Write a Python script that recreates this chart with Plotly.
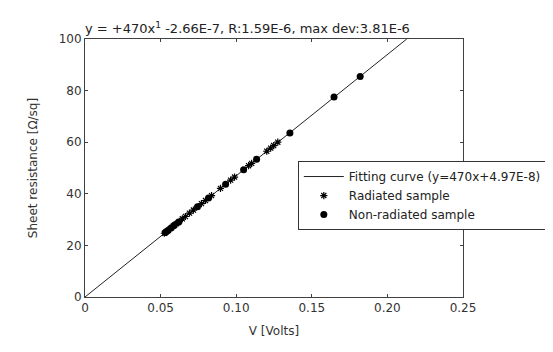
import plotly.graph_objects as go

# Fitting curve (straight line through origin to top edge)
fit_x = [0.0, 0.05, 0.10, 0.15, 0.2128]
fit_y = [0.0, 23.5, 47.0, 70.5, 100.0]

# Radiated sample (asterisks)
rad_x = [0.0525, 0.0538, 0.0544, 0.0564, 0.0584, 0.0604, 0.0624, 0.0644, 0.0664, 0.0691,
         0.0717, 0.0770, 0.0797, 0.0837, 0.0896, 0.0963, 0.0989, 0.1082, 0.1102, 0.1202,
         0.1228, 0.1248, 0.1275]
rad_y = [24.7, 25.3, 25.6, 26.5, 27.5, 28.4, 29.3, 30.3, 31.2, 32.5,
         33.7, 36.2, 37.4, 39.3, 42.1, 45.3, 46.5, 50.9, 51.8, 56.5,
         57.7, 58.7, 60.0]

# Non-radiated sample (filled dots)
non_x = [0.0531, 0.0551, 0.0571, 0.0591, 0.0618, 0.0744, 0.0817, 0.0930, 0.1049, 0.1135,
         0.1355, 0.1647, 0.1820]
non_y = [25.0, 25.9, 26.8, 27.8, 29.0, 35.0, 38.4, 43.7, 49.3, 53.4,
         63.6, 77.5, 85.5]

x_ticks = [0, 0.05, 0.10, 0.15, 0.20, 0.25]
x_ticktext = ["0", "0.05", "0.10", "0.15", "0.20", "0.25"]
y_ticks = [0, 20, 40, 60, 80, 100]

font = "DejaVu Sans, Verdana, sans-serif"

fig = go.Figure()
fig.add_trace(go.Scatter(x=fit_x, y=fit_y, mode="lines",
                         line=dict(color="#222222", width=1),
                         name="Fitting curve (y=470x+4.97E-8)"))
fig.add_trace(go.Scatter(x=rad_x, y=rad_y, mode="markers",
                         marker=dict(symbol="asterisk-open", size=6, color="black",
                                     line=dict(color="black", width=1.2)),
                         name="Radiated sample"))
fig.add_trace(go.Scatter(x=non_x, y=non_y, mode="markers",
                         marker=dict(symbol="circle", size=7, color="black",
                                     line=dict(width=0)),
                         name="Non-radiated sample"))

axis_common = dict(showgrid=False, zeroline=False, showline=True, linecolor="#404040",
                   linewidth=1, mirror="ticks", ticks="inside", ticklen=3,
                   tickcolor="#404040", tickfont=dict(family=font, size=12, color="#333333"))

fig.update_xaxes(range=[0, 0.25], tickvals=x_ticks, ticktext=x_ticktext,
                 title=dict(text="V [Volts]", font=dict(family=font, size=12, color="#333333"),
                            standoff=12),
                 **axis_common)
fig.update_yaxes(range=[0, 100], tickvals=y_ticks,
                 title=dict(text="Sheet resistance [Ω/sq]",
                            font=dict(family=font, size=12, color="#333333"), standoff=18),
                 **axis_common)

fig.add_annotation(text="y = +470x<sup>1</sup> -2.66E-7, R:1.59E-6, max dev:3.81E-6",
                   xref="paper", yref="paper", x=-0.004, y=1.0, xanchor="left", yanchor="bottom",
                   yshift=1, showarrow=False,
                   font=dict(family=font, size=13, color="#222222"))

fig.update_layout(
    width=553, height=352,
    margin=dict(l=77, r=98, t=31, b=63, autoexpand=False),
    paper_bgcolor="white", plot_bgcolor="white",
    showlegend=True,
    legend=dict(x=0.563, y=0.527, xanchor="left", yanchor="top",
                bgcolor="white", bordercolor="#333333", borderwidth=1,
                font=dict(family=font, size=12, color="#222222"),
                tracegroupgap=0, itemwidth=40),
    font=dict(family=font),
)

fig.write_html("out.html")
